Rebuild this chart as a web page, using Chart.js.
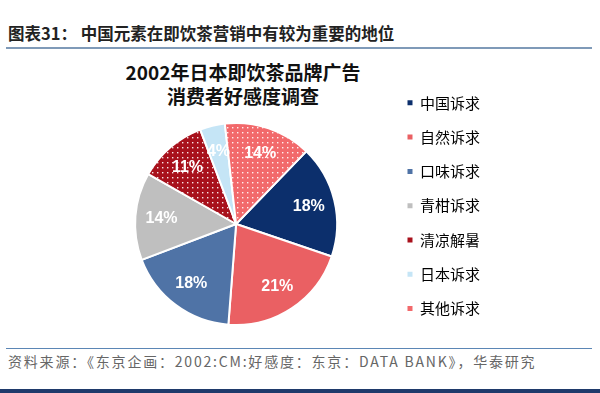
<!DOCTYPE html>
<html>
<head>
<meta charset="utf-8">
<script src="https://cdn.jsdelivr.net/npm/chart.js@4/dist/chart.umd.min.js"></script>
<style>
  body { margin: 0; background: #fff; }
  #page { position: relative; width: 600px; height: 393px; overflow: hidden; font-family: "Noto Sans CJK SC", sans-serif; }
  #head { position: absolute; left: 8px; top: 21px; font-size: 16.5px; font-weight: bold; color: #222; }
  #headLine { position: absolute; left: 6px; top: 47px; width: 586px; height: 2px; background: #7f9ab8; }
  .ttl { position: absolute; left: 0; width: 486px; text-align: center; font-size: 19px; font-weight: bold; color: #111; line-height: 23px; }
  #footLine { position: absolute; left: 6px; top: 348px; width: 586px; height: 1px; background: #5b86b5; }
  #src { position: absolute; left: 8px; top: 351px; font-size: 14px; letter-spacing: 1.8px; color: #666; }
  #bottomLine { position: absolute; left: 0; top: 389px; width: 600px; height: 4px; background: #1f3a6b; }
  #c { position: absolute; left: 0; top: 0; }
</style>
</head>
<body>
<div id="page">
  <div id="head">图表31： 中国元素在即饮茶营销中有较为重要的地位</div>
  <div id="headLine"></div>
  <div class="ttl" style="top:60px">2002年日本即饮茶品牌广告</div>
  <div class="ttl" style="top:84px">消费者好感度调查</div>
  <div id="footLine"></div>
  <div id="src">资料来源：《东京企画：2002:CM:好感度：东京：DATA BANK》，华泰研究</div>
  <div id="bottomLine"></div>
  <canvas id="c" width="600" height="393"></canvas>
</div>
<script>
var categories = ['中国诉求', '自然诉求', '口味诉求', '青柑诉求', '清凉解暑', '日本诉求', '其他诉求'];
var shares = [18, 21, 18, 14, 11, 4, 14];
var colors = ['#0c2f6c', '#ea6063', '#4f73a6', '#bfbfbf', '#a8111c', '#c5e5f6', '#f2696b'];
var dotted = [false, false, false, false, true, false, true];

function dots(color) {
  var p = document.createElement('canvas');
  p.width = 5; p.height = 5;
  var g = p.getContext('2d');
  g.fillStyle = color;
  g.fillRect(0, 0, 5, 5);
  g.fillStyle = 'rgba(255,255,255,0.9)';
  g.fillRect(2, 2, 1.4, 1.4);
  return g.createPattern(p, 'repeat');
}

var fills = colors.map(function (c, i) { return dotted[i] ? dots(c) : c; });

var pctLabels = {
  id: 'pctLabels',
  afterDatasetsDraw: function (chart) {
    var ctx = chart.ctx;
    var meta = chart.getDatasetMeta(0);
    ctx.save();
    ctx.fillStyle = '#fff';
    ctx.font = 'bold 16px "Liberation Sans", Arial, sans-serif';
    ctx.textAlign = 'center';
    ctx.textBaseline = 'middle';
    meta.data.forEach(function (arc, i) {
      var p = arc.getProps(['x', 'y', 'startAngle', 'endAngle', 'outerRadius'], true);
      var a = (p.startAngle + p.endAngle) / 2;
      var r = p.outerRadius * 0.74;
      ctx.fillText(shares[i] + '%', p.x + Math.cos(a) * r, p.y + Math.sin(a) * r);
    });
    ctx.restore();
  }
};

new Chart(document.getElementById('c'), {
  type: 'pie',
  data: {
    labels: categories,
    datasets: [{
      data: shares,
      backgroundColor: fills,
      borderColor: '#fff',
      borderWidth: 2
    }]
  },
  options: {
    responsive: false,
    animation: false,
    rotation: 44,
    radius: 101,
    layout: { padding: { left: 84, right: 110, top: 76, bottom: 21 } },
    plugins: {
      tooltip: { enabled: false },
      legend: {
        position: 'right',
        align: 'start',
        labels: {
          boxWidth: 5,
          boxHeight: 5,
          padding: 19.3,
          color: '#222',
          font: { family: '"Noto Sans CJK SC"', size: 15 },
          generateLabels: function (chart) {
            return categories.map(function (name, i) {
              return { text: name, fillStyle: colors[i], strokeStyle: colors[i], lineWidth: 0, index: i, hidden: false };
            });
          }
        }
      }
    }
  },
  plugins: [pctLabels]
});
</script>
</body>
</html>
